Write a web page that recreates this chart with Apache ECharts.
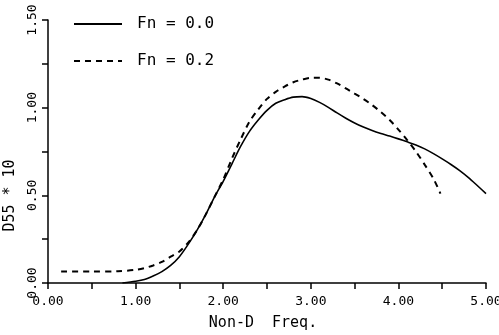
<!DOCTYPE html>
<html><head><meta charset="utf-8">
<script src="https://cdn.jsdelivr.net/npm/echarts@6/dist/echarts.min.js"></script>
<style>html,body{margin:0;padding:0;background:#fff}#c{width:499px;height:335px}</style>
</head><body><div id="c"></div>
<script>
var seriesNames = ['Fn = 0.0', 'Fn = 0.2'];
var xFn00 = [0.85,1.0,1.1,1.2,1.3,1.4,1.5,1.6,1.7,1.8,1.9,2.0,2.1,2.2,2.3,2.4,2.5,2.6,2.7,2.8,2.9,3.0,3.1,3.2,3.3,3.4,3.5,3.6,3.7,3.8,3.9,4.0,4.1,4.2,4.3,4.4,4.5,4.6,4.7,4.8,4.9,5.0];
var yFn00 = [0.0,0.01,0.02,0.04,0.065,0.10,0.15,0.22,0.30,0.39,0.49,0.58,0.68,0.78,0.865,0.93,0.985,1.025,1.045,1.06,1.063,1.052,1.03,1.002,0.97,0.94,0.913,0.89,0.87,0.853,0.838,0.822,0.805,0.787,0.765,0.738,0.708,0.676,0.641,0.601,0.556,0.51];
var xFn02 = [0.15,0.5,0.8,1.0,1.1,1.2,1.3,1.4,1.5,1.6,1.7,1.8,1.9,2.0,2.1,2.2,2.3,2.4,2.5,2.6,2.7,2.8,2.9,3.0,3.1,3.2,3.3,3.4,3.5,3.6,3.7,3.8,3.9,4.0,4.1,4.2,4.3,4.4,4.48];
var yFn02 = [0.065,0.065,0.067,0.075,0.085,0.10,0.12,0.15,0.18,0.23,0.30,0.39,0.49,0.59,0.71,0.82,0.92,0.99,1.05,1.09,1.12,1.145,1.16,1.17,1.17,1.16,1.138,1.11,1.08,1.05,1.015,0.975,0.93,0.875,0.815,0.75,0.675,0.595,0.51];
var xTickLabels = ['0.00','1.00','2.00','3.00','4.00','5.00'];
var yTickLabels = ['0.00','0.50','1.00','1.50'];

function pairs(xs, ys){ return xs.map(function(x,i){ return [x, ys[i]]; }); }
var font = 'DejaVu Sans Mono';
var chart = echarts.init(document.getElementById('c'), null, {renderer:'canvas'});
chart.setOption({
  animation: false,
  backgroundColor: '#fff',
  grid: {left: 48, right: 13, top: 20, bottom: 52, containLabel: false, outerBoundsMode: 'none'},
  legend: {
    orient: 'vertical', left: 68, top: 11, itemWidth: 48, itemHeight: 16, itemGap: 21,
    itemStyle: {opacity: 0},
    textStyle: {fontFamily: font, fontSize: 16, color: '#000', padding: [0,0,0,10]},
    data: seriesNames
  },
  xAxis: {
    type: 'value', min: 0, max: 5, interval: 0.5,
    name: 'Non-D  Freq.', nameLocation: 'middle', nameGap: 33,
    nameTextStyle: {fontFamily: font, fontSize: 15, color: '#000', padding: [0,8,0,0]},
    axisLine: {show: true, lineStyle: {color: '#000', width: 1.5}},
    axisTick: {show: true, inside: false, length: 6, lineStyle: {color: '#000', width: 1.5}},
    splitLine: {show: false},
    axisLabel: {fontFamily: font, fontSize: 13, color: '#000', margin: 12,
      formatter: function(v){ var i = Math.round(v*2); return i % 2 === 0 ? xTickLabels[i/2] : ''; }}
  },
  yAxis: {
    type: 'value', min: 0, max: 1.5, interval: 0.25,
    name: 'D55 * 10', nameLocation: 'middle', nameGap: 28, nameRotate: 90,
    nameTextStyle: {fontFamily: font, fontSize: 15, color: '#000', padding: [0,0,0,-88]},
    axisLine: {show: true, lineStyle: {color: '#000', width: 1.5}},
    axisTick: {show: true, inside: false, length: 6, lineStyle: {color: '#000', width: 1.5}},
    splitLine: {show: false},
    axisLabel: {fontFamily: font, fontSize: 13, color: '#000', rotate: 90, margin: 9,
      align: 'center', verticalAlign: 'bottom',
      formatter: function(v){ var i = Math.round(v*4); return i % 2 === 0 ? yTickLabels[i/2] : ''; }}
  },
  series: [
    {name: seriesNames[0], type: 'line', smooth: 0.3, symbol: 'none', data: pairs(xFn00, yFn00),
     lineStyle: {color: '#000', width: 1.6, type: 'solid'}, itemStyle: {color: '#000'}},
    {name: seriesNames[1], type: 'line', smooth: 0.3, symbol: 'none', data: pairs(xFn02, yFn02),
     lineStyle: {color: '#000', width: 2, type: [6,5]}, itemStyle: {color: '#000'}}
  ]
});
</script></body></html>
